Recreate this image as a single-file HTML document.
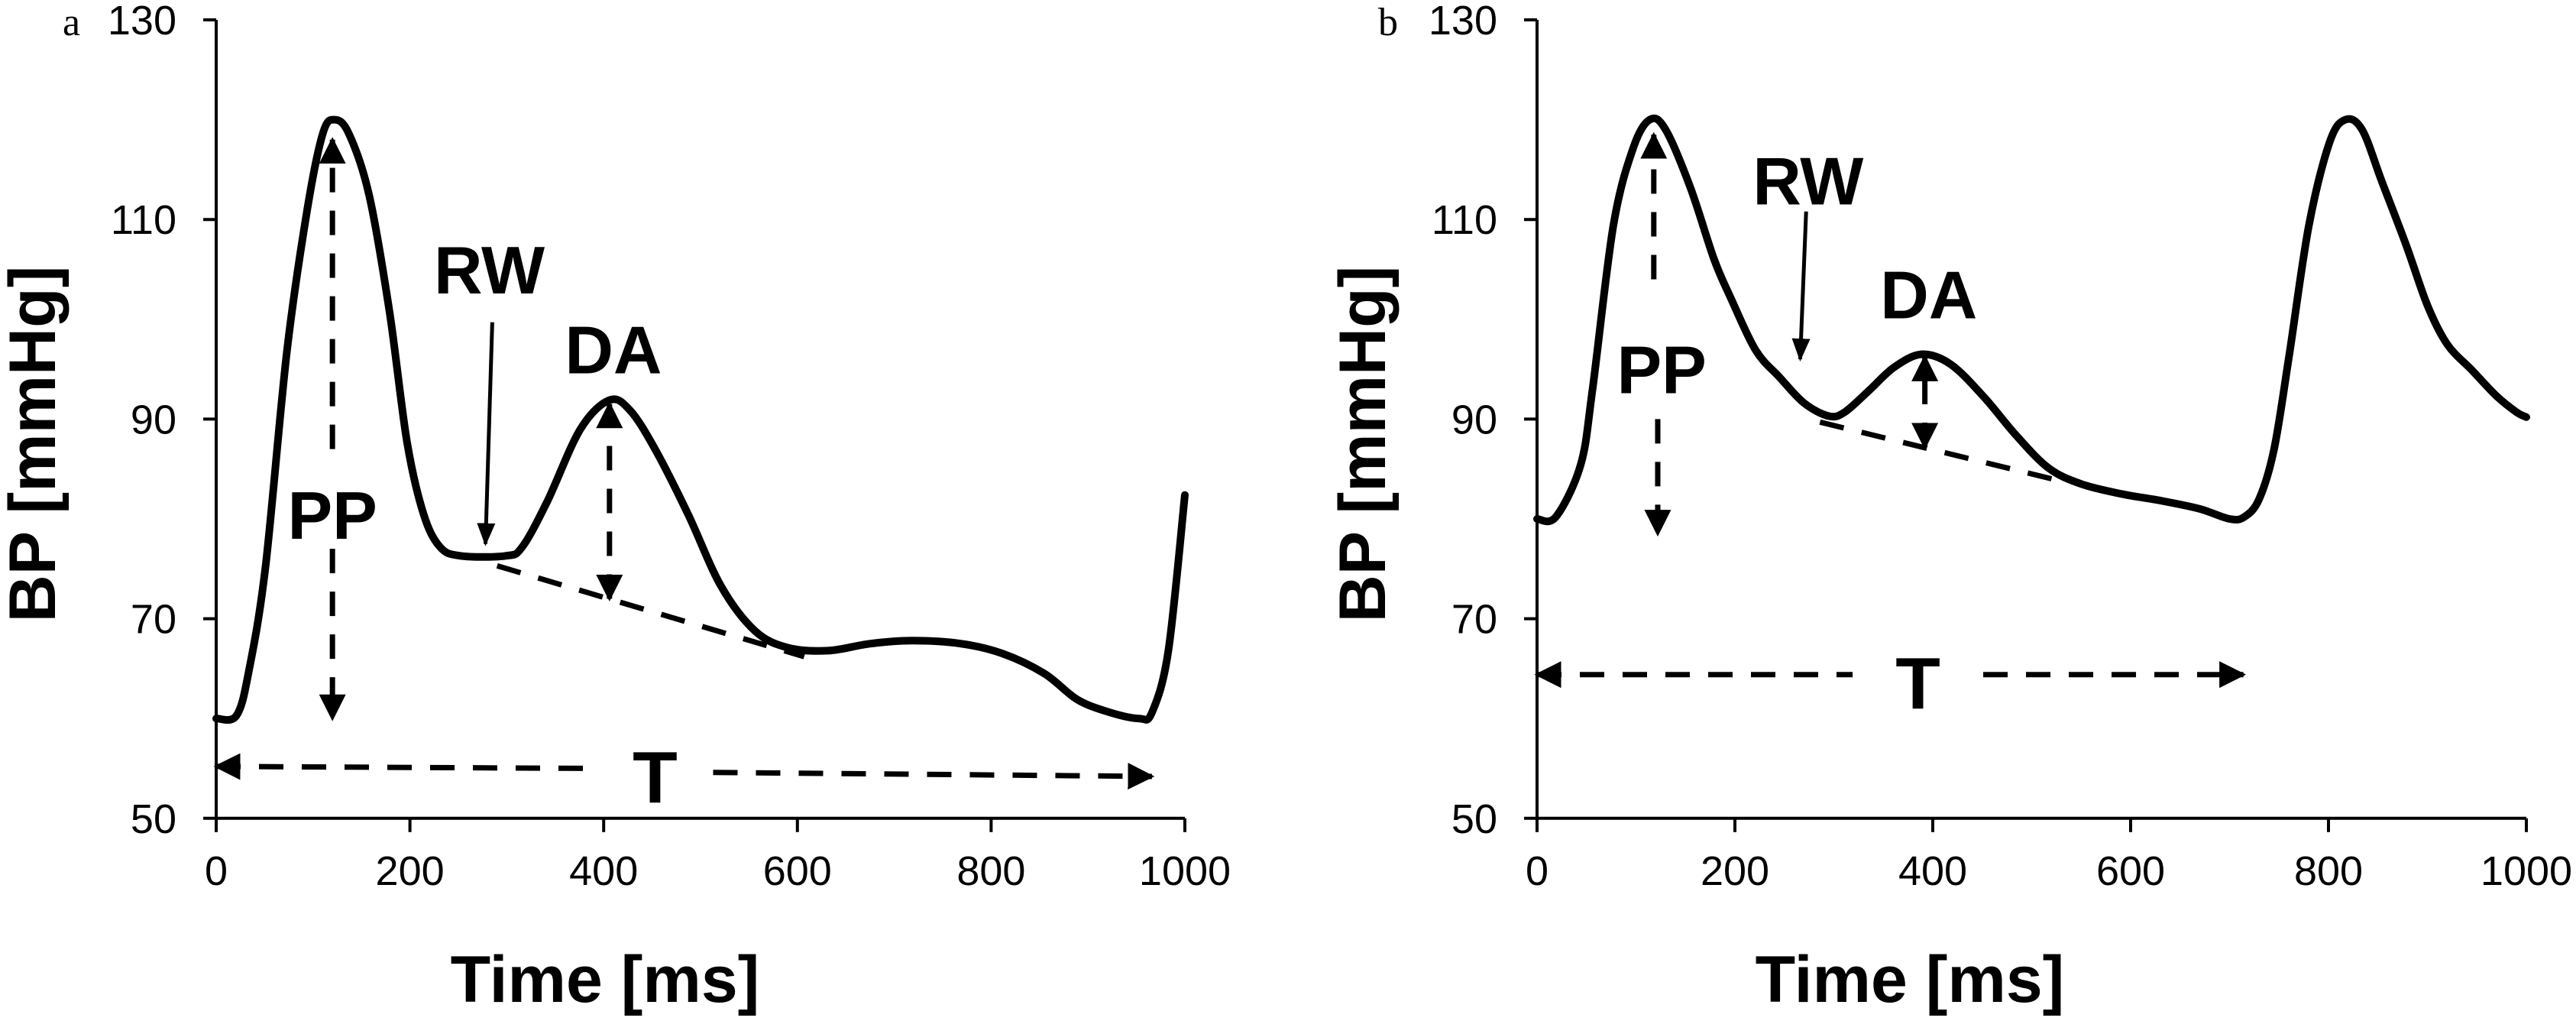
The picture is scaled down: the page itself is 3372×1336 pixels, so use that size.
<!DOCTYPE html>
<html><head><meta charset="utf-8"><style>
html,body{margin:0;padding:0;background:#fff;}
svg{display:block;}
text{font-family:"Liberation Sans",Arial,sans-serif;fill:#000;}
</style></head><body>
<svg id="s" width="3372" height="1336" viewBox="0 0 3372 1336" xmlns="http://www.w3.org/2000/svg">
<defs>
<marker id="ah" viewBox="0 0 10 10" refX="9" refY="5" markerWidth="5" markerHeight="5" markerUnits="strokeWidth" orient="auto-start-reverse"><path d="M0,0 L10,5 L0,10 z" fill="#000"/></marker>
<marker id="ah2" viewBox="0 0 10 10" refX="9" refY="5" markerWidth="6" markerHeight="6" markerUnits="strokeWidth" orient="auto-start-reverse"><path d="M0,1 L10,5 L0,9 z" fill="#000"/></marker>
</defs>
<g id="g"></g>
</svg>
<script>
var NS="http://www.w3.org/2000/svg",G=document.getElementById('g');
function el(t,a,txt){var e=document.createElementNS(NS,t);for(var k in a)e.setAttribute(k,a[k]);if(txt!==undefined)e.textContent=txt;G.appendChild(e);return e;}
function Y(y){return 26+(130-y)*13.06;}
function smooth(p){var d="M"+p[0][0]+","+p[0][1];for(var i=0;i<p.length-1;i++){var p0=p[Math.max(i-1,0)],p1=p[i],p2=p[i+1],p3=p[Math.min(i+2,p.length-1)];
var c1x=p1[0]+(p2[0]-p0[0])/6,c1y=p1[1]+(p2[1]-p0[1])/6,c2x=p2[0]-(p3[0]-p1[0])/6,c2y=p2[1]-(p3[1]-p1[1])/6;
d+=" C"+c1x.toFixed(1)+","+c1y.toFixed(1)+" "+c2x.toFixed(1)+","+c2y.toFixed(1)+" "+p2[0].toFixed(1)+","+p2[1].toFixed(1);}return d;}
function panel(x0,sc,lab,labx,ylabx,timex,data,ann){
 function X(x){return x0+x*sc;}
 el('path',{d:"M"+X(0)+","+Y(130)+" V"+Y(50)+" H"+X(1000),stroke:"#000","stroke-width":4,fill:"none"});
 [50,70,90,110,130].forEach(function(v){el('line',{x1:X(0)-17,x2:X(0),y1:Y(v),y2:Y(v),stroke:"#000","stroke-width":4});
  el('text',{x:X(0)-52,y:Y(v)+19,"text-anchor":"end","font-size":54},String(v));});
 [0,200,400,600,800,1000].forEach(function(v){el('line',{x1:X(v),x2:X(v),y1:Y(50),y2:Y(50)+18,stroke:"#000","stroke-width":4});
  el('text',{x:X(v),y:1158,"text-anchor":"middle","font-size":54},String(v));});
 el('text',{x:labx,y:46,"font-size":52,style:"font-family:'Liberation Serif',serif"},lab);
 el('text',{x:ylabx,y:581,"text-anchor":"middle","font-size":86,"font-weight":"bold",transform:"rotate(-90 "+ylabx+" 581)",dy:30},"BP [mmHg]");
 el('text',{x:timex,y:1311,"text-anchor":"middle","font-size":86,"font-weight":"bold"},"Time [ms]");
 var pts=data.map(function(p){return [X(p[0]),Y(p[1])];});
 el('path',{d:smooth(pts),stroke:"#000","stroke-width":10,fill:"none","stroke-linejoin":"round","stroke-linecap":"round"});
 function dash(x1,y1,x2,y2,ms,me){var a={x1:X(x1),y1:Y(y1),x2:X(x2),y2:Y(y2),stroke:"#000","stroke-width":7,"stroke-dasharray":"32,24"};
  if(ms)a["marker-start"]="url(#ah)";if(me)a["marker-end"]="url(#ah)";el('line',a);}
 ann(X,dash);
}
panel(283,1.268,"a",82,42,792,[[0,60],[21,60.3],[34,64.9],[51,75.3],[73,96.8],[94,111],[110,118.6],[122,120],[137,118.6],[158,112.4],[179,100.7],[197,87.7],[214,80.5],[231,77.2],[252,76.3],[299,76.3],[316,77.2],[342,81.8],[376,89],[406,91.9],[427,90.9],[453,87],[487,80.5],[521,73.3],[556,68.8],[590,67.1],[632,66.8],[675,67.5],[718,67.8],[769,67.5],[812,66.5],[855,64.5],[889,61.9],[923,60.6],[953,60],[966,60.6],[983,66.8],[1000,82.4]],
function(X,dash){
 dash(120,87,120,118,false,true);
 dash(120,77,120,60,false,true);
 el('text',{x:X(120),y:Y(78),"text-anchor":"middle","font-size":88,"font-weight":"bold"},"PP");
 el('text',{x:X(282),y:Y(102.6),"text-anchor":"middle","font-size":88,"font-weight":"bold"},"RW");
 el('line',{x1:X(285),y1:Y(99.7),x2:X(278),y2:Y(77.5),stroke:"#000","stroke-width":5,"marker-end":"url(#ah2)"});
 el('text',{x:X(410),y:Y(94.6),"text-anchor":"middle","font-size":88,"font-weight":"bold"},"DA");
 dash(406,72,406,91.5,true,true);
 dash(290,75.3,607,66.2,false,false);
 dash(0,55.2,393,55,true,false);
 dash(513,54.6,966,54.2,false,true);
 el('text',{x:X(453),y:Y(51.6),"text-anchor":"middle","font-size":96,"font-weight":"bold"},"T");
});
panel(2012,1.295,"b",1804,1783,2500,[[0,80],[19,80.2],[44,85.4],[56,92.9],[77,109.3],[97,117.1],[114,120],[130,119],[155,113.2],[179,106],[196,102.1],[221,96.9],[245,94.2],[270,91.6],[295,90.3],[311,90.7],[336,92.9],[361,95.2],[389,96.5],[418,95.5],[451,92.3],[484,88.4],[517,85.1],[550,83.5],[591,82.5],[632,81.8],[670,81],[700,80],[715,80.2],[730,82],[745,87],[760,96.2],[780,109.3],[801,117.7],[817,120],[834,119],[854,113.8],[879,107.3],[900,101.4],[920,97.5],[945,94.9],[970,92.3],[990,90.7],[1000,90.2]],
function(X,dash){
 dash(118,104,118,118.5,false,true);
 dash(122,90,122,78.5,false,true);
 el('text',{x:X(126),y:Y(92.6),"text-anchor":"middle","font-size":88,"font-weight":"bold"},"PP");
 el('text',{x:X(274),y:Y(111.5),"text-anchor":"middle","font-size":88,"font-weight":"bold"},"RW");
 el('line',{x1:X(272),y1:Y(110.8),x2:X(266),y2:Y(96),stroke:"#000","stroke-width":5,"marker-end":"url(#ah2)"});
 el('text',{x:X(396),y:Y(100.1),"text-anchor":"middle","font-size":88,"font-weight":"bold"},"DA");
 dash(392,87.2,392,96.2,true,true);
 dash(286,89.7,529,83.8,false,false);
 dash(0,64.4,319,64.4,true,false);
 dash(451,64.4,714,64.4,false,true);
 el('text',{x:X(385),y:Y(61),"text-anchor":"middle","font-size":96,"font-weight":"bold"},"T");
});
</script>
</body></html>
